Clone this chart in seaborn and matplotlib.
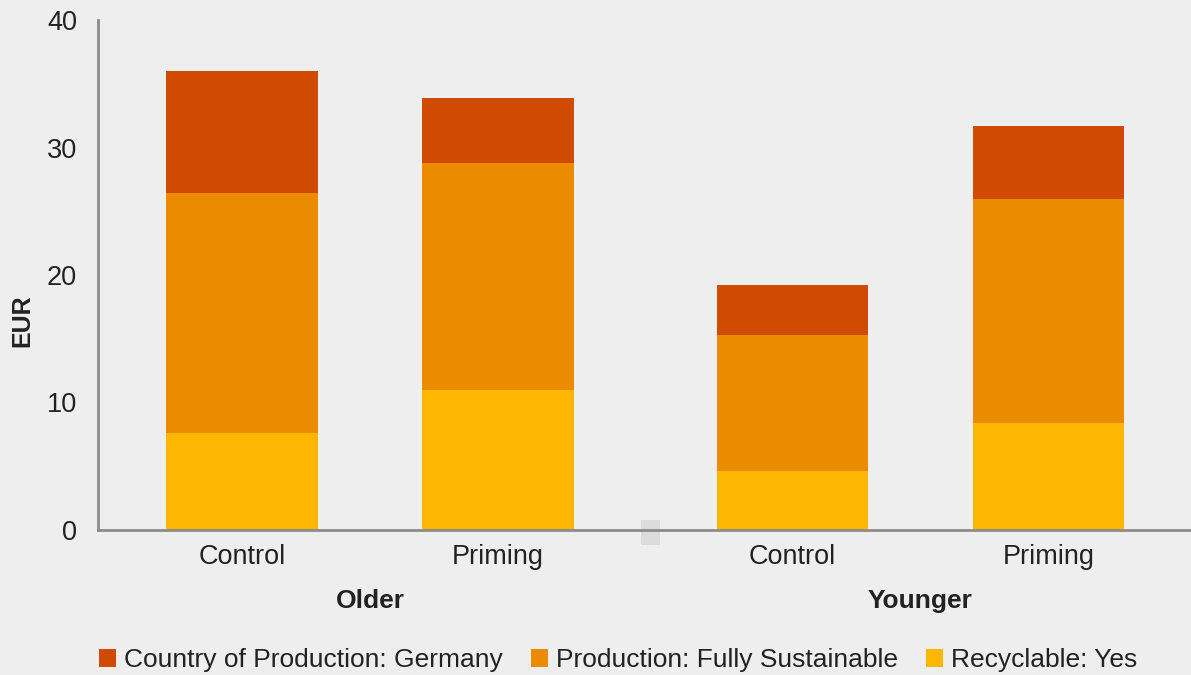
import numpy as np
import pandas as pd
import matplotlib
matplotlib.use("Agg")
import matplotlib.pyplot as plt
from matplotlib.patches import Patch, Rectangle
import seaborn as sns

# Mean willingness to pay (EUR) by attribute, stacked per condition
groups = ["Older", "Younger"]
conditions = ["Control", "Priming", "Control", "Priming"]
recyclable = [7.6, 11.0, 4.6, 8.4]
sustainable = [18.8, 17.8, 10.7, 17.6]
germany = [9.6, 5.1, 3.9, 5.7]
series_names = ["Country of Production: Germany",
                "Production: Fully Sustainable",
                "Recyclable: Yes"]
colors = ["#D04A02", "#EB8C00", "#FFB600"]

bg = "#EEEEEE"
text_color = "#222222"
fs = 19.5

sns.set_theme(style="white")
plt.rcParams["font.family"] = ["Liberation Sans", "DejaVu Sans"]

# Bar centres: two groups of two, with a slightly wider gap between groups
pos = np.array([0.0, 1.0, 2.15, 3.15])

df = pd.DataFrame({
    "pos": pos,
    "recyclable": recyclable,
    "sustainable": sustainable,
    "germany": germany,
})
df["top1"] = df["recyclable"]
df["top2"] = df["top1"] + df["sustainable"]
df["top3"] = df["top2"] + df["germany"]

fig = plt.figure(figsize=(11.91, 6.75), dpi=100, facecolor=bg)
ax = fig.add_axes([98 / 1191, 1 - 530 / 675, 1 - 98 / 1191, (530 - 20) / 675])
ax.set_facecolor(bg)

for col, c in zip(["top3", "top2", "top1"], colors):
    sns.barplot(data=df, x="pos", y=col, native_scale=True, width=0.59,
                color=c, saturation=1, linewidth=0, ax=ax)

ax.set_ylim(0, 40)
ax.set_xlim(-0.5625, 3.707)
ax.set_yticks([0, 10, 20, 30, 40])
ax.set_xticks(pos)
ax.set_xticklabels(conditions)
ax.tick_params(axis="y", length=0, pad=15, labelsize=fs, labelcolor=text_color)
ax.tick_params(axis="x", length=0, pad=10, labelsize=fs, labelcolor=text_color)
ax.set_xlabel("")
ax.set_ylabel("EUR", fontsize=18, fontweight="bold", color=text_color)
ax.yaxis.set_label_coords(-0.058, 0.41)

for side in ["top", "right"]:
    ax.spines[side].set_visible(False)
for side in ["left", "bottom"]:
    ax.spines[side].set_color("#8C8C8C")
    ax.spines[side].set_linewidth(2)

# Group labels under the condition labels
for g, i in zip(groups, [0, 2]):
    xc = (pos[i] + pos[i + 1]) / 2
    ax.text(xc, -5.6, g, ha="center", va="center", fontsize=fs - 0.5,
            fontweight="bold", color=text_color, transform=ax.transData,
            clip_on=False)

# Small separator marker between the groups on the baseline
sep_x = (pos[1] + pos[2]) / 2 + 0.02
ax.add_patch(Rectangle((sep_x - 0.037, -1.18), 0.074, 1.96, facecolor="#DCDCDC",
                       edgecolor="none", clip_on=False, zorder=0))

handles = [Patch(facecolor=c, edgecolor="none") for c in colors]
fig.legend(handles, series_names, loc="center", bbox_to_anchor=(0.519, 0.022),
           ncol=3, frameon=False, fontsize=19, handlelength=0.65,
           handleheight=0.65, handletextpad=0.3, columnspacing=1.05,
           labelcolor=text_color, borderpad=0)

fig.savefig("out.png", dpi=100, facecolor=bg)
